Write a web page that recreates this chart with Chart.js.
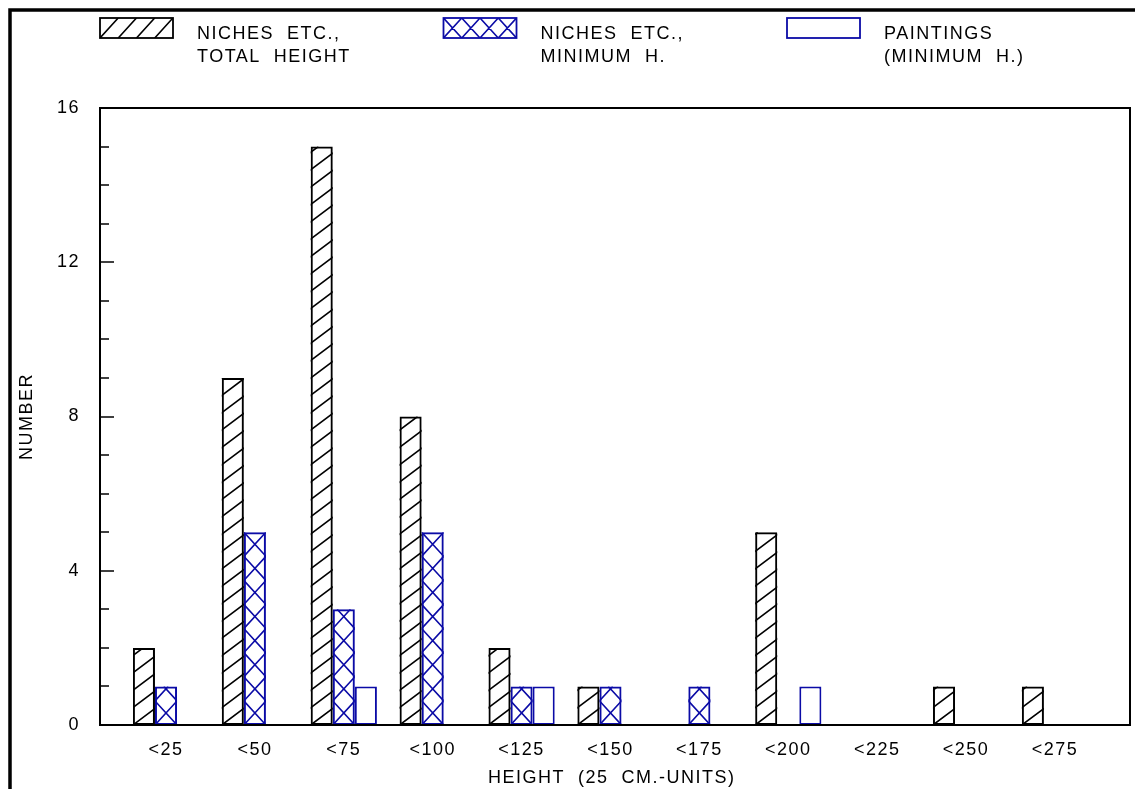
<!DOCTYPE html>
<html>
<head>
<meta charset="utf-8">
<script src="https://cdn.jsdelivr.net/npm/chart.js@4/dist/chart.umd.min.js"></script>
<style>
  html, body { margin: 0; padding: 0; background: #fff; }
  canvas { display: block; }
</style>
</head>
<body>
<canvas id="chart" width="1135" height="789"></canvas>
<script>
// Height classes (25 cm units) and counts per class
const categories = ['<25', '<50', '<75', '<100', '<125', '<150', '<175', '<200', '<225', '<250', '<275'];
const nichesTotal = [2, 9, 15, 8, 2, 1, 0, 5, 0, 1, 1];
const nichesMinimum = [1, 5, 3, 5, 1, 1, 1, 0, 0, 0, 0];
const paintingsMinimum = [0, 0, 1, 0, 1, 0, 0, 1, 0, 0, 0];
const seriesLabels = [
  ['NICHES  ETC.,', 'TOTAL  HEIGHT'],
  ['NICHES  ETC.,', 'MINIMUM  H.'],
  ['PAINTINGS', '(MINIMUM  H.)']
];
const yLabelTicks = [0, 4, 8, 12, 16];
const yMinorStep = 1;
const xTitle = 'HEIGHT  (25  CM.-UNITS)';
const yTitle = 'NUMBER';

const BLUE = '#0b0ba6';
const FONT = "'Liberation Sans', Arial, sans-serif";
const seriesValues = [nichesTotal, nichesMinimum, paintingsMinimum];
const seriesColors = ['#000000', BLUE, BLUE];
const seriesHatch = ['slash', 'cross', 'none'];

Chart.defaults.font.family = FONT;
Chart.defaults.font.size = 18;
Chart.defaults.color = '#000';

// Draw a family of parallel lines through (l + k*step, b), rising `ratio` px per px (negative = falling)
function lineFamily(ctx, l, t, r, b, step, ratio) {
  const run = (b - t) / ratio;
  const span = Math.abs(run);
  const n = Math.ceil((span + step) / step);
  for (let x0 = l - n * step; x0 <= r + span + step; x0 += step) {
    ctx.moveTo(x0, b);
    ctx.lineTo(x0 + run, t);
  }
}

function paintHatch(ctx, kind, l, t, r, b, color, step, ratio) {
  if (kind === 'none') return;
  ctx.save();
  ctx.beginPath();
  ctx.rect(l, t, r - l, b - t);
  ctx.clip();
  ctx.strokeStyle = color;
  ctx.lineWidth = 1.6;
  ctx.beginPath();
  lineFamily(ctx, l, t, r, b, step, ratio);
  if (kind === 'cross') lineFamily(ctx, l, t, r, b, step, -ratio);
  ctx.stroke();
  ctx.restore();
}

// Hatch fills inside each bar, painted before the library draws the bar outlines
const hatchPlugin = {
  id: 'hatchFill',
  beforeDatasetDraw(chart, args) {
    const kind = seriesHatch[args.index];
    if (kind === 'none') return;
    const ctx = chart.ctx;
    const yScale = chart.scales.y;
    const unit = Math.abs(yScale.getPixelForValue(0) - yScale.getPixelForValue(1));
    args.meta.data.forEach(bar => {
      const p = bar.getProps(['x', 'y', 'base', 'width'], true);
      const l = p.x - p.width / 2, r = p.x + p.width / 2;
      const t = Math.min(p.y, p.base), b = Math.max(p.y, p.base);
      if (b - t < 1) return;
      if (kind === 'slash') {
        const period = unit * 0.45;
        const ratio = 0.75;
        paintHatch(ctx, kind, l, t, r, b, seriesColors[args.index], period / ratio, ratio);
      } else {
        const period = unit * 5 / 8;
        paintHatch(ctx, kind, l, t, r, b, seriesColors[args.index], p.width, period / p.width);
      }
    });
  }
};

// Plot frame, inward y ticks, outer border, legend and axis titles
const decorPlugin = {
  id: 'decor',
  beforeDraw(chart) {
    chart.ctx.letterSpacing = '1.5px';
  },
  afterDatasetsDraw(chart) {
    const ctx = chart.ctx;
    const { left, top, right, bottom } = chart.chartArea;
    const y = chart.scales.y;
    ctx.save();
    ctx.strokeStyle = '#000';
    ctx.lineWidth = 2;
    ctx.strokeRect(left, top, right - left, bottom - top);
    ctx.lineWidth = 1.6;
    ctx.beginPath();
    for (let v = y.min; v <= y.max; v += yMinorStep) {
      const py = Math.round(y.getPixelForValue(v));
      const len = yLabelTicks.includes(v) ? 14 : 9;
      ctx.moveTo(left, py);
      ctx.lineTo(left + len, py);
    }
    ctx.stroke();
    ctx.lineWidth = 3.5;
    ctx.strokeRect(10, 10, chart.width + 40, chart.height + 40);
    ctx.restore();
  },
  afterDraw(chart) {
    const ctx = chart.ctx;
    const { left, top, bottom } = chart.chartArea;
    ctx.save();
    ctx.letterSpacing = '1.5px';
    ctx.fillStyle = '#000';
    ctx.font = '18px ' + FONT;
    ctx.textBaseline = 'alphabetic';
    ctx.textAlign = 'left';

    // legend
    const boxW = 73, boxH = 20, itemGap = 343.5, boxTop = 18;
    chart.data.datasets.forEach((ds, i) => {
      const bx = left + i * itemGap;
      if (seriesHatch[i] === 'slash') {
        paintHatch(ctx, 'slash', bx, boxTop, bx + boxW, boxTop + boxH, seriesColors[i], boxW / 4, 1.1);
      } else if (seriesHatch[i] === 'cross') {
        paintHatch(ctx, 'cross', bx, boxTop, bx + boxW, boxTop + boxH, seriesColors[i], boxW / 4, boxH / (boxW / 4));
      }
      ctx.strokeStyle = seriesColors[i];
      ctx.lineWidth = 1.8;
      ctx.strokeRect(bx, boxTop, boxW, boxH);
      seriesLabels[i].forEach((line, k) => {
        ctx.fillText(line, bx + 97, 38.5 + k * 23.5);
      });
    });

    // axis titles
    ctx.fillText(xTitle, left + 388, bottom + 58);
    ctx.translate(27, (top + bottom) / 2);
    ctx.rotate(-Math.PI / 2);
    ctx.textAlign = 'center';
    ctx.textBaseline = 'middle';
    ctx.fillText(yTitle, 0, 0);
    ctx.restore();
  }
};

new Chart(document.getElementById('chart'), {
  type: 'bar',
  data: {
    datasets: seriesValues.map((vals, s) => ({
      label: seriesLabels[s].join(' '),
      data: vals.map((v, i) => ({ x: i + 1, y: v })),
      backgroundColor: s === 2 ? '#ffffff' : 'rgba(0,0,0,0)',
      borderColor: seriesColors[s],
      borderWidth: 2,
      borderSkipped: false,
      categoryPercentage: 0.745,
      barPercentage: 1
    }))
  },
  options: {
    responsive: false,
    animation: false,
    devicePixelRatio: 1,
    layout: { padding: { left: 0, top: 108, right: 5, bottom: 0 } },
    plugins: { legend: { display: false }, tooltip: { enabled: false } },
    scales: {
      x: {
        type: 'linear',
        offset: false,
        min: 0.2576,
        max: 11.844,
        grid: { display: false, drawTicks: false, offset: false },
        border: { display: false },
        afterBuildTicks: axis => { axis.ticks = categories.map((_, i) => ({ value: i + 1 })); },
        afterFit: axis => { axis.height = 64; },
        ticks: {
          autoSkip: false,
          maxRotation: 0,
          padding: 14,
          color: '#000',
          font: { size: 18 },
          callback: v => categories[v - 1] ?? ''
        }
      },
      y: {
        min: 0,
        max: 16,
        grid: { display: false, drawTicks: false },
        border: { display: false },
        afterBuildTicks: axis => { axis.ticks = yLabelTicks.map(v => ({ value: v })); },
        afterFit: axis => { axis.width = 100; },
        ticks: { padding: 20, color: '#000', font: { size: 18 } }
      }
    }
  },
  plugins: [hatchPlugin, decorPlugin]
});
</script>
</body>
</html>
